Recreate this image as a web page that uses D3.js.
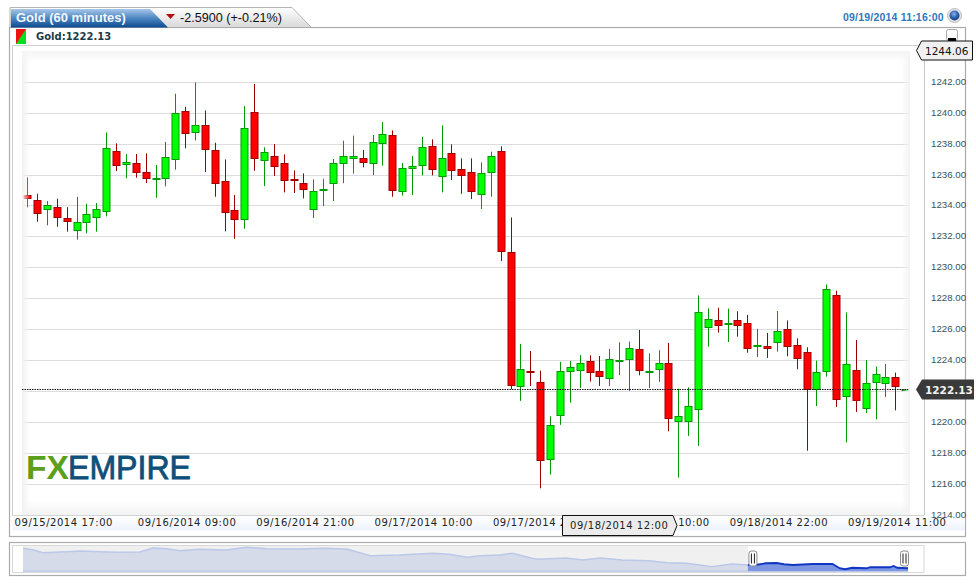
<!DOCTYPE html>
<html><head><meta charset="utf-8">
<style>html,body{margin:0;padding:0;background:#fff;overflow:hidden}svg{display:block}</style>
<script src="https://cdnjs.cloudflare.com/ajax/libs/d3/7.8.5/d3.min.js"></script>
</head><body><div id="c"></div>
<script>
const opens=[1234.69,1234.36,1233.78,1233.91,1233.20,1232.42,1232.94,1233.26,1233.65,1237.53,1236.69,1236.76,1236.17,1235.76,1235.79,1237.01,1240.12,1238.76,1239.21,1237.60,1235.59,1233.72,1233.13,1240.05,1236.95,1237.21,1236.76,1235.74,1235.46,1233.78,1235.01,1235.46,1236.73,1237.12,1237.08,1236.73,1238.03,1238.57,1234.92,1236.41,1236.61,1237.86,1235.89,1237.40,1236.37,1236.17,1234.73,1236.15,1237.53,1231.00,1222.32,1223.31,1222.60,1217.60,1220.44,1223.29,1223.35,1223.96,1223.31,1222.83,1223.93,1224.06,1224.73,1223.22,1223.42,1223.83,1220.05,1220.05,1220.83,1226.13,1226.60,1226.35,1226.60,1226.37,1224.90,1224.92,1225.16,1226.02,1224.99,1224.53,1222.16,1223.28,1228.22,1221.67,1223.37,1220.89,1222.57,1222.51,1222.92,1222.13];
const closes=[1234.47,1233.52,1234.04,1233.26,1232.98,1232.94,1233.46,1233.78,1237.73,1236.63,1236.82,1236.17,1235.79,1235.81,1237.14,1239.99,1238.70,1239.21,1237.66,1235.46,1233.59,1233.13,1239.02,1237.08,1237.47,1236.56,1235.66,1235.70,1235.07,1234.94,1235.07,1236.76,1237.21,1237.23,1236.80,1238.11,1238.63,1235.01,1236.43,1236.56,1237.79,1236.35,1237.08,1236.28,1235.96,1234.92,1236.11,1237.21,1231.04,1222.38,1223.44,1223.22,1217.53,1219.82,1223.31,1223.57,1223.83,1223.22,1222.96,1224.08,1224.02,1224.80,1223.35,1223.31,1223.83,1220.25,1220.40,1221.04,1227.12,1226.67,1226.26,1226.41,1226.26,1224.77,1224.99,1224.79,1225.89,1224.90,1224.13,1222.16,1223.24,1228.61,1221.47,1223.76,1221.41,1222.53,1223.11,1222.92,1222.31,1222.13];
const highs=[1235.85,1234.79,1234.32,1234.47,1233.93,1234.58,1234.15,1234.19,1238.76,1238.05,1237.36,1237.36,1237.40,1236.65,1238.14,1241.26,1240.42,1241.99,1240.18,1238.09,1237.01,1234.71,1240.46,1241.89,1237.79,1238.01,1237.34,1236.30,1236.11,1235.72,1235.76,1237.04,1238.22,1238.55,1237.62,1238.59,1239.43,1238.89,1236.78,1237.23,1238.46,1238.31,1239.21,1237.99,1237.08,1237.08,1236.82,1237.51,1237.86,1233.26,1225.08,1224.62,1223.35,1220.40,1223.91,1223.98,1224.36,1224.34,1224.30,1224.75,1225.18,1225.23,1225.98,1224.47,1224.67,1225.14,1222.19,1222.27,1228.22,1227.38,1227.42,1227.36,1227.19,1226.95,1226.04,1225.79,1227.21,1226.60,1225.44,1224.86,1224.00,1228.93,1228.52,1227.12,1225.33,1224.04,1223.61,1223.78,1223.22,1222.13];
const lows=[1233.91,1232.98,1232.75,1232.66,1232.34,1231.82,1232.23,1232.34,1233.33,1236.26,1235.79,1235.83,1235.48,1234.53,1235.27,1236.35,1237.73,1238.24,1236.20,1234.60,1232.36,1231.88,1232.53,1236.28,1235.29,1235.94,1234.88,1234.84,1234.49,1233.22,1234.00,1234.32,1235.48,1236.09,1236.50,1236.00,1236.61,1234.60,1234.67,1234.71,1235.98,1235.98,1234.88,1235.68,1234.79,1234.45,1233.80,1234.60,1230.44,1222.14,1221.39,1222.36,1215.74,1216.63,1219.84,1221.28,1222.23,1222.64,1222.36,1222.36,1223.07,1222.04,1223.05,1222.23,1222.62,1219.43,1216.43,1219.13,1218.48,1224.90,1225.81,1225.20,1225.55,1224.51,1224.23,1224.17,1224.58,1224.28,1223.44,1218.17,1221.06,1222.96,1221.00,1218.71,1220.68,1220.61,1220.20,1221.65,1220.78,1222.13];
const gridPrices=[1216,1218,1220,1222,1224,1226,1228,1230,1232,1234,1236,1238,1240,1242];
const priceTicks=[1214,1216,1218,1220,1224,1226,1228,1230,1232,1234,1236,1238,1240,1242];
const timeBars=[3.7,16.2,28.2,40.2,52.2,64.2,76.2,88.2];
const timeLabels=["09/15/2014 17:00","09/16/2014 09:00","09/16/2014 21:00","09/17/2014 10:00","09/17/2014 22:00","09/18/2014 10:00","09/18/2014 22:00","09/19/2014 11:00"];
const navBars=[0,6,11,24,33,43,52,65,72,80,87,98,113,124,136,154,167,180,193,209,228,237,247,254,265,272,283,286,302,311,321,333,348,358,369,383,394,403,408,413,419,423,428,439,450,454,457,461,469,471,482,484,486,492];
const navPrices=[1301,1294,1283,1287,1290,1287,1285,1286,1302,1299,1291,1297,1294,1305,1299,1298,1301,1298,1271,1274,1281,1277,1265,1271,1274,1281,1261,1257,1262,1254,1262,1254,1251,1243,1241,1227,1238,1234,1235,1241,1242,1237,1234,1238,1238,1221,1217,1223,1221,1225,1225,1230,1223,1221];
const lastPrice=1222.13, topPrice=1244.06, crossLabel="09/18/2014 12:00";

const W=976,H=585;
const svg=d3.select("#c").append("svg").attr("width",W).attr("height",H);
const defs=svg.append("defs");
function grad(id,x2,y2,stops){const g=defs.append("linearGradient").attr("id",id).attr("x1",0).attr("y1",0).attr("x2",x2).attr("y2",y2);
 stops.forEach(s=>g.append("stop").attr("offset",s[0]).attr("stop-color",s[1]).attr("stop-opacity",s[2]===undefined?1:s[2]));}
grad("blueTab",0,1,[[0,"#a6c6ea"],[.5,"#4d86c2"],[1,"#0c4a8e"]]);
grad("greyTab",0,1,[[0,"#ffffff"],[1,"#d9d9d9"]]);
grad("fadeL",1,0,[[0,"#f2f2f2",1],[1,"#f2f2f2",0]]);
grad("fadeR",1,0,[[0,"#f2f2f2",0],[1,"#f2f2f2",1]]);
grad("fadeT",0,1,[[0,"#f5f5f5",1],[1,"#f5f5f5",0]]);
grad("fadeB",0,1,[[0,"#f3f3f3",0],[1,"#f3f3f3",1]]);
grad("axisBand",0,1,[[0,"#ffffff"],[1,"#edf3fb"]]);
const rg=defs.append("radialGradient").attr("id","globe").attr("cx",.45).attr("cy",.35).attr("r",.7);
rg.append("stop").attr("offset",0).attr("stop-color","#8db4e8");rg.append("stop").attr("offset",.55).attr("stop-color","#2a5fb0");rg.append("stop").attr("offset",1).attr("stop-color","#123a78");

const PL=22,PR=910,PT=51,PB=515;
const x=d3.scaleLinear().domain([0,88]).range([27.3,895.3]);
const y=d3.scaleLinear().domain([1214,1242]).range([515.2,82.3]);
const px=v=>Math.floor(y(v))+.5;

// panel
svg.append("rect").attr("x",9.5).attr("y",27.5).attr("width",956).attr("height",509).attr("fill","#fff").attr("stroke","#ababab").attr("stroke-width",1.2);
svg.append("path").attr("d","M12.5 515.5V45.5H965").attr("fill","none").attr("stroke","#cfcfcf").attr("stroke-width",1);
svg.append("rect").attr("x",12.5).attr("y",515.5).attr("width",952.5).attr("height",15).attr("fill","url(#axisBand)");
svg.append("line").attr("x1",12.5).attr("x2",924).attr("y1",515.5).attr("y2",515.5).attr("stroke","#d4d4d4");
svg.append("line").attr("x1",924.5).attr("x2",924.5).attr("y1",45).attr("y2",515).attr("stroke","#c8c8c8").attr("stroke-width",1);

// tabs
svg.append("path").attr("d","M10 27V7.5H292L311 27").attr("fill","url(#greyTab)").attr("stroke","#b5b5b5");
svg.append("path").attr("d","M11 9H150L168 27.5H11Z").attr("fill","url(#blueTab)");
svg.append("text").attr("x",16).attr("y",22).attr("font-family","Liberation Sans").attr("font-weight","bold").attr("font-size",13).attr("fill","#f2f7fd").text("Gold (60 minutes)");
svg.append("path").attr("d","M166 14H175L170.5 19Z").attr("fill","#b01010");
svg.append("text").attr("x",180).attr("y",22).attr("font-family","Liberation Sans").attr("font-size",12.6).attr("fill","#111").text("-2.5900 (+-0.21%)");
svg.append("text").attr("x",843).attr("y",21).attr("font-family","Liberation Sans").attr("font-weight","bold").attr("font-size",10.5).attr("fill","#2f78bd").attr("letter-spacing",.2).text("09/19/2014 11:16:00");
svg.append("circle").attr("cx",954.5).attr("cy",15.5).attr("r",7).attr("fill","#e4e4e4").attr("stroke","#bdbdbd");
svg.append("circle").attr("cx",954.5).attr("cy",15.5).attr("r",5).attr("fill","url(#globe)");

// legend row
svg.append("path").attr("d","M16 29H26V44H16Z").attr("fill","#00e020");
svg.append("path").attr("d","M16 29H26L16 44Z").attr("fill","#f01010");
svg.append("text").attr("x",36).attr("y",40).attr("font-family","DejaVu Sans").attr("font-weight","bold").attr("font-size",10).attr("fill","#1d3b47").text("Gold:1222.13");
svg.append("rect").attr("x",946.5).attr("y",29.5).attr("width",11).attr("height",11).attr("rx",2).attr("fill","#fff").attr("stroke","#aaa");
svg.append("rect").attr("x",948).attr("y",38).attr("width",8).attr("height",3).attr("fill","#000");

// grid + axis labels
svg.append("g").attr("stroke","#dcdcdc").attr("stroke-width",1).selectAll("line").data(gridPrices).join("line")
 .attr("x1",PL).attr("x2",PR).attr("y1",px).attr("y2",px);
const ya=svg.append("g").attr("transform","translate(931,0)").call(d3.axisRight(y).tickValues(priceTicks).tickSize(0).tickPadding(0).tickFormat(d3.format(".2f")));
ya.select(".domain").remove();
ya.selectAll("text").attr("font-family","Liberation Sans").attr("font-size",9.7).attr("fill","#37525e").attr("dy","0.2em");

// x labels
svg.append("g").selectAll("text").data(timeLabels).join("text")
 .attr("x",(d,i)=>x(timeBars[i])).attr("y",526).attr("text-anchor","middle").attr("font-family","DejaVu Sans").attr("font-size",10).attr("letter-spacing",.55).attr("fill","#222").text(d=>d);

// candles
const idx=d3.range(opens.length);
const cg=svg.append("g");
const color=i=>closes[i]>=opens[i];
cg.selectAll("line").data(idx).join("line")
 .attr("x1",i=>Math.round(x(i))+.5).attr("x2",i=>Math.round(x(i))+.5)
 .attr("y1",i=>y(highs[i])).attr("y2",i=>y(lows[i]))
 .attr("stroke",i=>color(i)?"#009a00":"#9a0000").attr("stroke-width",1);
cg.selectAll("rect").data(idx).join("rect")
 .attr("x",i=>Math.round(x(i))-3).attr("width",7)
 .attr("y",i=>px(Math.max(opens[i],closes[i])))
 .attr("height",i=>Math.max(Math.round(Math.abs(y(opens[i])-y(closes[i]))),1))
 .attr("fill",i=>color(i)?"#00ff00":"#ff0000")
 .attr("stroke",i=>color(i)?"#009a00":"#a00000").attr("stroke-width",1);

// edge fades
svg.append("rect").attr("x",PL).attr("y",PT).attr("width",8).attr("height",PB-PT).attr("fill","url(#fadeL)");
svg.append("rect").attr("x",PR-8).attr("y",PT).attr("width",8).attr("height",PB-PT).attr("fill","url(#fadeR)");
svg.append("rect").attr("x",PL).attr("y",PT).attr("width",PR-PL).attr("height",11).attr("fill","url(#fadeT)");
svg.append("rect").attr("x",PL).attr("y",PB-15).attr("width",PR-PL).attr("height",15).attr("fill","url(#fadeB)");

// logo
svg.append("text").attr("x",26).attr("y",479).attr("font-family","Liberation Sans").attr("font-weight","bold").attr("font-size",32.5).attr("fill","#5c9f1c").attr("textLength",43).attr("lengthAdjust","spacingAndGlyphs").text("FX");
svg.append("text").attr("x",68).attr("y",479).attr("font-family","Liberation Sans").attr("font-size",32.5).attr("fill","#0f4f78").attr("stroke","#0f4f78").attr("stroke-width",.8).attr("textLength",123).attr("lengthAdjust","spacingAndGlyphs").text("EMPIRE");

// current price line
svg.append("line").attr("x1",PL).attr("x2",PR-2).attr("y1",px(lastPrice)).attr("y2",px(lastPrice)).attr("stroke","#111").attr("stroke-width",1).attr("stroke-dasharray","1.5,1");

// price flags
const fy=y(lastPrice);
svg.append("path").attr("d",`M916 ${fy}L922 ${fy-10}H974V${fy+10}H922Z`).attr("fill","#3a3a3a");
svg.append("text").attr("x",925).attr("y",fy+4).attr("font-family","DejaVu Sans").attr("font-weight","bold").attr("font-size",10.5).attr("fill","#f4f4f4").text(lastPrice.toFixed(2));
svg.append("path").attr("d","M916.5 50.5L921.5 41H972.5V60H921.5Z").attr("fill","#f0f0f0").attr("stroke","#111");
svg.append("text").attr("x",925).attr("y",54.5).attr("font-family","DejaVu Sans").attr("font-size",10.5).attr("fill","#111").text(topPrice.toFixed(2));

// crosshair label
svg.append("path").attr("d","M562.5 515.5H673L677 525.5L673 535.5H562.5Z").attr("fill","#ececec").attr("stroke","#111");
svg.append("text").attr("x",570).attr("y",528.5).attr("font-family","DejaVu Sans").attr("font-size",10).attr("letter-spacing",.55).attr("fill","#222").text(crossLabel);

// navigator
svg.append("rect").attr("x",9.5).attr("y",542.5).attr("width",956).attr("height",33).attr("fill","#fff").attr("stroke","#ababab").attr("stroke-width",1.2);
svg.append("rect").attr("x",12.5).attr("y",545.5).attr("width",911.5).attr("height",27).attr("fill","#fff").attr("stroke","#d8d8d8");
const nx=d3.scaleLinear().domain([0,492]).range([23,908]);
const ny=d3.scaleLinear().domain([1222,1306]).range([568,547]);
const splitBar=403;
svg.append("rect").attr("x",nx(0)).attr("y",546).attr("width",nx(splitBar)-nx(0)).attr("height",26).attr("fill","#f0f0f0");
const navIdx=d3.range(navBars.length);
const navBase=571.5;
const area=d3.area().x(i=>nx(navBars[i])).y0(navBase).y1(i=>ny(navPrices[i]));
const line=d3.line().x(i=>nx(navBars[i])).y(i=>ny(navPrices[i]));
const pre=navIdx.filter(i=>navBars[i]<=splitBar), post=navIdx.filter(i=>navBars[i]>=splitBar);
svg.append("path").attr("d",area(pre)).attr("fill","#d6dbea");
svg.append("path").attr("d",line(pre)).attr("fill","none").attr("stroke","#bcc8e8").attr("stroke-width",1.5);
svg.append("rect").attr("x",nx(0)).attr("y",navBase-1).attr("width",nx(splitBar)-nx(0)).attr("height",1.2).attr("fill","#bcc8e8");
svg.append("path").attr("d",area(post)).attr("fill","#7d96e2");
svg.append("path").attr("d",line(post)).attr("fill","none").attr("stroke","#0f37c4").attr("stroke-width",1.8);
[nx(splitBar)+5,nx(492)-3.5].forEach(cx=>{
 svg.append("rect").attr("x",cx-4).attr("y",551).attr("width",8).attr("height",15).attr("rx",2.5).attr("fill","#fff").attr("stroke","#8a8a8a");
 svg.append("path").attr("d",`M${cx-1.5} 553.5V563.5M${cx+1.5} 553.5V563.5`).attr("stroke","#222").attr("stroke-width",1);
});
</script></body></html>
